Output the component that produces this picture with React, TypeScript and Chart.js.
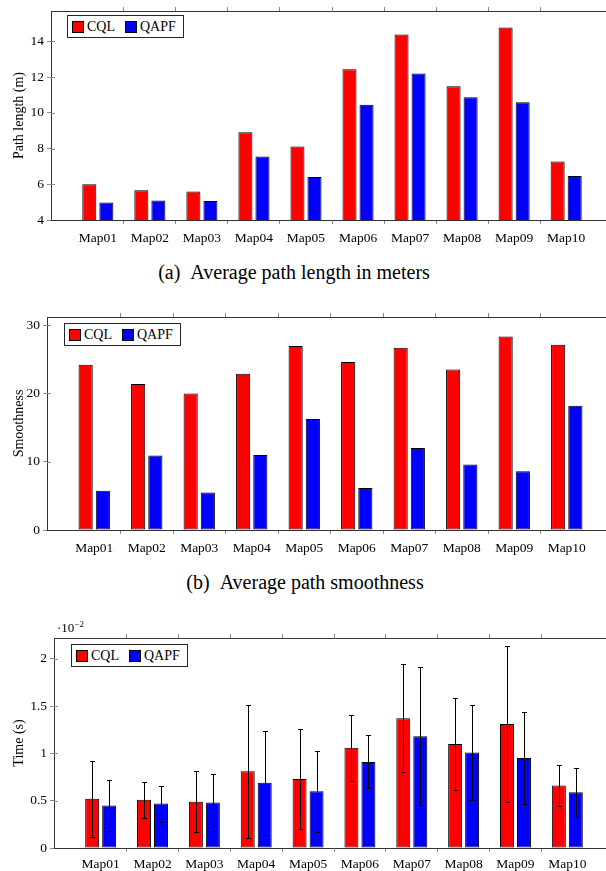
import React, { useEffect, useRef } from 'react';
import { Chart, registerables } from 'chart.js';

Chart.register(...registerables);

const FONT = "'Liberation Serif', 'Times New Roman', serif";

// ---- data ----
const categories = ['Map01', 'Map02', 'Map03', 'Map04', 'Map05', 'Map06', 'Map07', 'Map08', 'Map09', 'Map10'];
const seriesNames = ['CQL', 'QAPF'];
const seriesColors = ['#ff0000', '#0000ff'];

const cqlLength = [6.0, 5.67, 5.59, 8.92, 8.12, 12.44, 14.39, 11.49, 14.78, 7.28];
const qapfLength = [4.98, 5.09, 5.07, 7.56, 6.41, 10.46, 12.2, 10.87, 10.6, 6.47];

const cqlSmooth = [24.2, 21.4, 20.0, 22.9, 26.95, 24.6, 26.7, 23.5, 28.35, 27.15];
const qapfSmooth = [5.75, 10.9, 5.5, 11.0, 16.25, 6.15, 12.0, 9.6, 8.6, 18.2];

// time values in units of 10^-2 s
const cqlTime = [0.52, 0.51, 0.49, 0.81, 0.73, 1.06, 1.37, 1.1, 1.31, 0.66];
const qapfTime = [0.45, 0.47, 0.48, 0.69, 0.6, 0.91, 1.18, 1.01, 0.95, 0.59];
const cqlTimeErr = [0.4, 0.19, 0.32, 0.7, 0.53, 0.35, 0.57, 0.49, 0.82, 0.22];
const qapfTimeErr = [0.27, 0.19, 0.3, 0.55, 0.43, 0.28, 0.73, 0.5, 0.49, 0.26];

const lengthTicks = [4, 6, 8, 10, 12, 14];
const smoothTicks = [0, 10, 20, 30];
const timeTicks = [0, 0.5, 1, 1.5, 2];

// ---- plugins ----
const errorBarPlugin = {
  id: 'errorBars',
  afterDatasetsDraw(chart: any) {
    const { ctx } = chart;
    const y = chart.scales.y;
    chart.data.datasets.forEach((ds: any, di: number) => {
      const errs: number[] | undefined = ds.errors;
      if (!errs) return;
      const meta = chart.getDatasetMeta(di);
      meta.data.forEach((el: any, i: number) => {
        const v = ds.data[i].y;
        const e = errs[i];
        const x = Math.round(el.x) + 0.5;
        const yt = Math.round(y.getPixelForValue(v + e)) + 0.5;
        const yb = Math.round(y.getPixelForValue(v - e)) + 0.5;
        ctx.save();
        ctx.strokeStyle = '#000';
        ctx.lineWidth = 1;
        ctx.beginPath();
        ctx.moveTo(x, yt);
        ctx.lineTo(x, yb);
        ctx.moveTo(x - 2.5, yt);
        ctx.lineTo(x + 2.5, yt);
        ctx.moveTo(x - 2.5, yb);
        ctx.lineTo(x + 2.5, yb);
        ctx.stroke();
        ctx.restore();
      });
    });
  },
};

const innerTicksPlugin = {
  id: 'innerTicks',
  afterDraw(chart: any) {
    const { ctx, chartArea } = chart;
    const y = chart.scales.y;
    ctx.save();
    ctx.strokeStyle = '#8c8c8c';
    ctx.lineWidth = 1;
    y.ticks.forEach((t: any) => {
      const py = Math.round(y.getPixelForValue(t.value)) + 0.5;
      if (Math.abs(py - chartArea.bottom) < 2) return;
      ctx.beginPath();
      ctx.moveTo(chartArea.left, py);
      ctx.lineTo(chartArea.left + 4, py);
      ctx.stroke();
    });
    ctx.restore();
  },
};

type Series = { label: string; color: string; values: number[]; errors?: number[] };

type Props = {
  top: number;
  height: number;
  topGap: number;
  xH: number;
  yW: number;
  padRight: number;
  labelPad: number;
  yMin: number;
  yMax: number;
  yTicks: number[];
  yTitle: string;
  series: Series[];
};

const CANVAS_W = 620;

const boundaryTickColor = (ctx: any) =>
  ctx.type === 'tick' && ctx.index > 0 ? '#8c8c8c' : 'rgba(0,0,0,0)';

function BarChart(p: Props) {
  const ref = useRef<HTMLCanvasElement | null>(null);
  useEffect(() => {
    if (!ref.current) return;
    const tickFont = { family: FONT, size: 13.5 };
    const catTicks = (s: any) => {
      s.ticks = categories.map((_, i) => ({ value: i }));
    };
    const chart = new Chart(ref.current, {
      type: 'bar',
      data: {
        datasets: p.series.map((s) => ({
          label: s.label,
          data: s.values.map((v, i) => ({ x: i, y: v })),
          backgroundColor: s.color,
          borderColor: '#000',
          borderWidth: 1,
          borderSkipped: false,
          errors: s.errors,
        })) as any,
      },
      options: {
        responsive: false,
        animation: false,
        devicePixelRatio: 1,
        layout: { padding: { left: 0, right: p.padRight, top: 0, bottom: 0 } },
        plugins: { legend: { display: false }, tooltip: { enabled: false } },
        datasets: { bar: { categoryPercentage: 0.655, barPercentage: 0.8235 } },
        scales: {
          x: {
            type: 'linear',
            position: 'bottom',
            min: -0.9,
            max: 9.9,
            offset: false,
            afterBuildTicks: catTicks,
            afterFit: (s: any) => {
              s.height = p.xH;
            },
            ticks: {
              autoSkip: false,
              maxRotation: 0,
              padding: p.labelPad,
              color: '#000',
              font: tickFont,
              callback: (v: any) => categories[v] ?? '',
            },
            grid: {
              display: true,
              offset: true,
              drawOnChartArea: false,
              drawTicks: true,
              tickLength: 4,
              tickColor: boundaryTickColor,
            },
            border: { display: true, color: '#333', width: 1 },
          },
          x2: {
            type: 'linear',
            position: 'top',
            min: -0.9,
            max: 9.9,
            offset: false,
            afterBuildTicks: catTicks,
            afterFit: (s: any) => {
              s.height = p.topGap;
            },
            ticks: { display: false },
            grid: {
              display: true,
              offset: true,
              drawOnChartArea: false,
              drawTicks: true,
              tickLength: 4,
              tickColor: boundaryTickColor,
            },
            border: { display: true, color: '#333', width: 1 },
          },
          y: {
            type: 'linear',
            position: 'left',
            min: p.yMin,
            max: p.yMax,
            afterBuildTicks: (s: any) => {
              s.ticks = p.yTicks.map((v) => ({ value: v }));
            },
            afterFit: (s: any) => {
              s.width = p.yW;
            },
            ticks: {
              padding: 3,
              color: '#000',
              font: tickFont,
              callback: (v: any) => String(v),
            },
            grid: { drawOnChartArea: false, tickLength: 4, tickColor: '#8c8c8c' },
            border: { display: true, color: '#333', width: 1 },
            title: {
              display: true,
              text: p.yTitle,
              color: '#000',
              font: { family: FONT, size: 14 },
              padding: { top: 11, bottom: 0 },
            },
          },
        } as any,
      },
      plugins: [innerTicksPlugin, errorBarPlugin],
    });
    return () => chart.destroy();
  }, []);
  return (
    <canvas
      ref={ref}
      width={CANVAS_W}
      height={p.height}
      style={{ position: 'absolute', left: 0, top: p.top, width: CANVAS_W, height: p.height }}
    />
  );
}

function Legend({ left, top }: { left: number; top: number }) {
  return (
    <div
      style={{
        position: 'absolute',
        left,
        top,
        height: 23,
        boxSizing: 'border-box',
        border: '1px solid #262626',
        background: '#fff',
        display: 'flex',
        alignItems: 'center',
        padding: '0 7px 0 4px',
        fontFamily: FONT,
        fontSize: 14,
        lineHeight: '14px',
        color: '#000',
      }}
    >
      {seriesNames.map((n, i) => (
        <div key={n} style={{ display: 'flex', alignItems: 'center', marginRight: i === 0 ? 10 : 0 }}>
          <span
            style={{
              display: 'inline-block',
              width: 12,
              height: 12,
              boxSizing: 'border-box',
              border: '1px solid #000',
              background: seriesColors[i],
              marginRight: 3,
            }}
          />
          <span>{n}</span>
        </div>
      ))}
    </div>
  );
}

function Caption({ center, top, tag, text }: { center: number; top: number; tag: string; text: string }) {
  return (
    <div
      style={{
        position: 'absolute',
        left: center - 300,
        top,
        width: 600,
        textAlign: 'center',
        fontFamily: FONT,
        fontSize: 20,
        lineHeight: '20px',
        color: '#000',
        whiteSpace: 'nowrap',
      }}
    >
      <span style={{ marginRight: 10 }}>{tag}</span>
      <span>{text}</span>
    </div>
  );
}

export default function App() {
  const mk = (a: number[], b: number[], ea?: number[], eb?: number[]): Series[] => [
    { label: seriesNames[0], color: seriesColors[0], values: a, errors: ea },
    { label: seriesNames[1], color: seriesColors[1], values: b, errors: eb },
  ];
  return (
    <div
      style={{
        position: 'absolute',
        left: 0,
        top: 0,
        width: 606,
        height: 871,
        overflow: 'hidden',
        background: '#fff',
      }}
    >
      <BarChart
        top={0}
        height={250}
        topGap={10}
        xH={30}
        yW={51}
        padRight={7}
        labelPad={6}
        yMin={4}
        yMax={15.7}
        yTicks={lengthTicks}
        yTitle="Path length (m)"
        series={mk(cqlLength, qapfLength)}
      />
      <Legend left={67} top={15} />
      <Caption center={294} top={262} tag="(a)" text="Average path length in meters" />

      <BarChart
        top={300}
        height={260}
        topGap={17}
        xH={30}
        yW={47}
        padRight={6}
        labelPad={6}
        yMin={0}
        yMax={31.2}
        yTicks={smoothTicks}
        yTitle="Smoothness"
        series={mk(cqlSmooth, qapfSmooth)}
      />
      <Legend left={64} top={323} />
      <Caption center={305} top={572} tag="(b)" text="Average path smoothness" />

      <BarChart
        top={620}
        height={251}
        topGap={18}
        xH={23}
        yW={54}
        padRight={6}
        labelPad={4}
        yMin={0}
        yMax={2.219}
        yTicks={timeTicks}
        yTitle="Time (s)"
        series={mk(cqlTime, qapfTime, cqlTimeErr, qapfTimeErr)}
      />
      <Legend left={71} top={644} />
      <div
        style={{
          position: 'absolute',
          left: 57,
          top: 621,
          fontFamily: FONT,
          fontSize: 13,
          lineHeight: '13px',
          color: '#000',
          whiteSpace: 'nowrap',
        }}
      >
        ·10
        <span style={{ fontSize: 9, position: 'relative', top: -5 }}>−2</span>
      </div>
    </div>
  );
}
